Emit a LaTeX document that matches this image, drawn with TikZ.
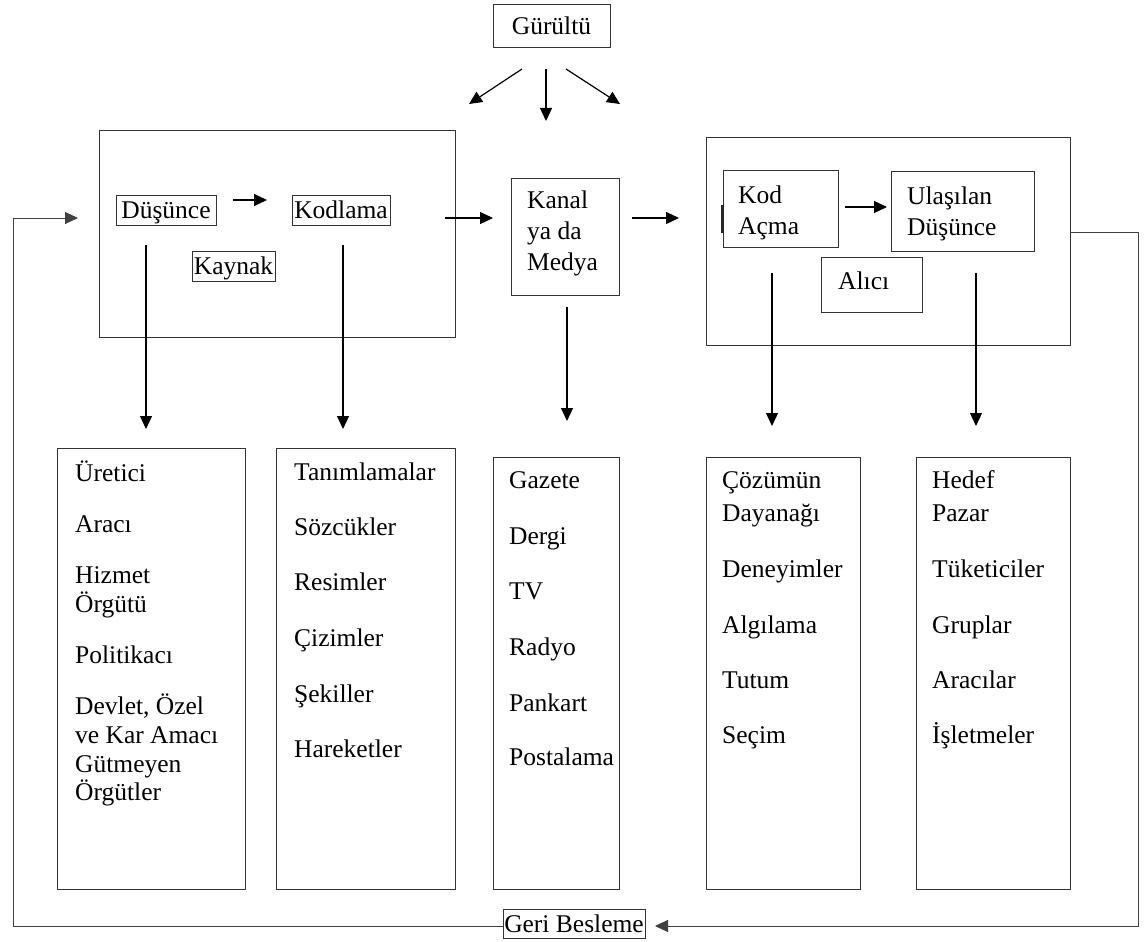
\documentclass[tikz,border=0pt]{standalone}
\usepackage{fontspec}
\setmainfont{Liberation Serif}
\usetikzlibrary{arrows.meta}
\begin{document}
\begin{tikzpicture}[x=1pt,y=-1pt,
  box/.style={draw=black!80, line width=1pt, inner sep=0pt, rectangle},
  txt/.style={font=\fontsize{25.5}{30}\selectfont, inner sep=0pt, anchor=base west, text=black},
  ctxt/.style={font=\fontsize{25.5}{30}\selectfont, text=black, text height=17pt, text depth=0pt},
  arr/.style={draw=black, line width=1.2pt, -{Triangle[length=13pt,width=12pt]}},
  fb/.style={draw=black!75, line width=1pt}]
\useasboundingbox (0,0) rectangle (1144,942);
% top boxes
\node[box, ctxt, minimum width=117pt, minimum height=43pt] (gur) at (551.5,26.5) {Gürültü};
\node[box, minimum width=356pt, minimum height=207pt] (src) at (277,233.5) {};
\node[box, ctxt, minimum width=100pt, minimum height=30pt] (dus) at (166,210) {Düşünce};
\node[box, ctxt, minimum width=98pt, minimum height=30pt] (kod) at (341,210) {Kodlama};
\node[box, ctxt, minimum width=83pt, minimum height=30pt] (kay) at (233.5,266) {Kaynak};
\node[box, minimum width=108pt, minimum height=117pt] (kanal) at (565,236.5) {};
\node[txt] (k1) at (527,208) {Kanal};
\node[txt] (k2) at (527,239) {ya da};
\node[txt] (k3) at (527,270) {Medya};
\node[box, minimum width=364pt, minimum height=208pt] (rcv) at (888,241) {};
\node[box, minimum width=115pt, minimum height=77pt] (kodac) at (780.5,208.5) {};
\node[txt] (ka1) at (738,203) {Kod};
\node[txt] (ka2) at (738,234) {Açma};
\draw[line width=2.5pt, black!85] (722.5,205) coordinate (m1) -- (722.5,233) coordinate (m2);
\node[box, minimum width=143pt, minimum height=80pt] (ulas) at (962.5,211) {};
\node[txt] (u1) at (907,204) {Ulaşılan};
\node[txt] (u2) at (907,235) {Düşünce};
\node[box, minimum width=101pt, minimum height=55pt] (alici) at (871.5,284.5) {};
\node[txt] (al) at (838,289) {Alıcı};
% bottom boxes
\node[box, minimum width=188pt, minimum height=441pt] (b1) at (151,668.5) {};
\node[box, minimum width=179pt, minimum height=441pt] (b2) at (365.5,668.5) {};
\node[box, minimum width=126pt, minimum height=432pt] (b3) at (556,673) {};
\node[box, minimum width=154pt, minimum height=432pt] (b4) at (783,673) {};
\node[box, minimum width=154pt, minimum height=432pt] (b5) at (993,673) {};
\node[box, ctxt, minimum width=142pt, minimum height=29pt] (geri) at (574,923.5) {Geri Besleme};
% lists
\foreach \t/\y [count=\i] in {Üretici/481, Aracı/532, Hizmet/583, Örgütü/612, Politikacı/663, {Devlet, Özel}/714, ve Kar Amacı/743, Gütmeyen/772, Örgütler/800}
  \node[txt] (la\i) at (75,\y) {\t};
\foreach \t/\y [count=\i] in {Tanımlamalar/480, Sözcükler/535, Resimler/590, Çizimler/646, Şekiller/702, Hareketler/757}
  \node[txt] (lb\i) at (294,\y) {\t};
\foreach \t/\y [count=\i] in {Gazete/488, Dergi/544, TV/599, Radyo/655, Pankart/711, Postalama/765}
  \node[txt] (lc\i) at (509,\y) {\t};
\foreach \t/\y [count=\i] in {Çözümün/488, Dayanağı/521, Deneyimler/577, Algılama/633, Tutum/688, Seçim/743}
  \node[txt] (ld\i) at (722,\y) {\t};
\foreach \t/\y [count=\i] in {Hedef/488, Pazar/521, Tüketiciler/577, Gruplar/633, Aracılar/688, İşletmeler/743}
  \node[txt] (le\i) at (932,\y) {\t};
% coordinates for free-ended arrows
\coordinate (n1s) at (522,69); \coordinate (n1e) at (469,104);
\coordinate (n2s) at (546,69); \coordinate (n2e) at (546,121);
\coordinate (n3s) at (566,69); \coordinate (n3e) at (620,104);
\coordinate (dks) at (233,200); \coordinate (dke) at (267,200);
\coordinate (sks) at (445,218); \coordinate (ske) at (493,218);
\coordinate (krs) at (632,218); \coordinate (kre) at (679,218);
\coordinate (kus) at (845,207); \coordinate (kue) at (887,207);
\coordinate (d1s) at (146,245); \coordinate (d1e) at (146,429);
\coordinate (d2s) at (343,245); \coordinate (d2e) at (343,429);
\coordinate (d3s) at (567,307); \coordinate (d3e) at (567,421);
\coordinate (d4s) at (772,273); \coordinate (d4e) at (772,426);
\coordinate (d5s) at (976,273); \coordinate (d5e) at (976,426);
\coordinate (fbr) at (1070,232);
\coordinate (fbc1) at (1138,232);
\coordinate (fbc2) at (1138,926);
\coordinate (fbt) at (655,926);
\coordinate (fbl1) at (13,926);
\coordinate (fbl2) at (13,218);
\coordinate (fbin) at (78,218);
% arrows
\draw[arr] (n1s) -- (n1e);
\draw[arr] (n2s) -- (n2e);
\draw[arr] (n3s) -- (n3e);
\draw[arr] (dks) -- (dke);
\draw[arr] (sks) -- (ske);
\draw[arr] (krs) -- (kre);
\draw[arr] (kus) -- (kue);
\draw[arr] (d1s) -- (d1e);
\draw[arr] (d2s) -- (d2e);
\draw[arr] (d3s) -- (d3e);
\draw[arr] (d4s) -- (d4e);
\draw[arr] (d5s) -- (d5e);
% feedback
\draw[fb, -{Triangle[length=13pt,width=12pt]}] (fbr) -- (fbc1) -- (fbc2) -- (fbt);
\draw[fb, -{Triangle[length=13pt,width=12pt]}] (geri.west |- fbl1) -- (fbl1) -- (fbl2) -- (fbin);
\end{tikzpicture}
\end{document}
